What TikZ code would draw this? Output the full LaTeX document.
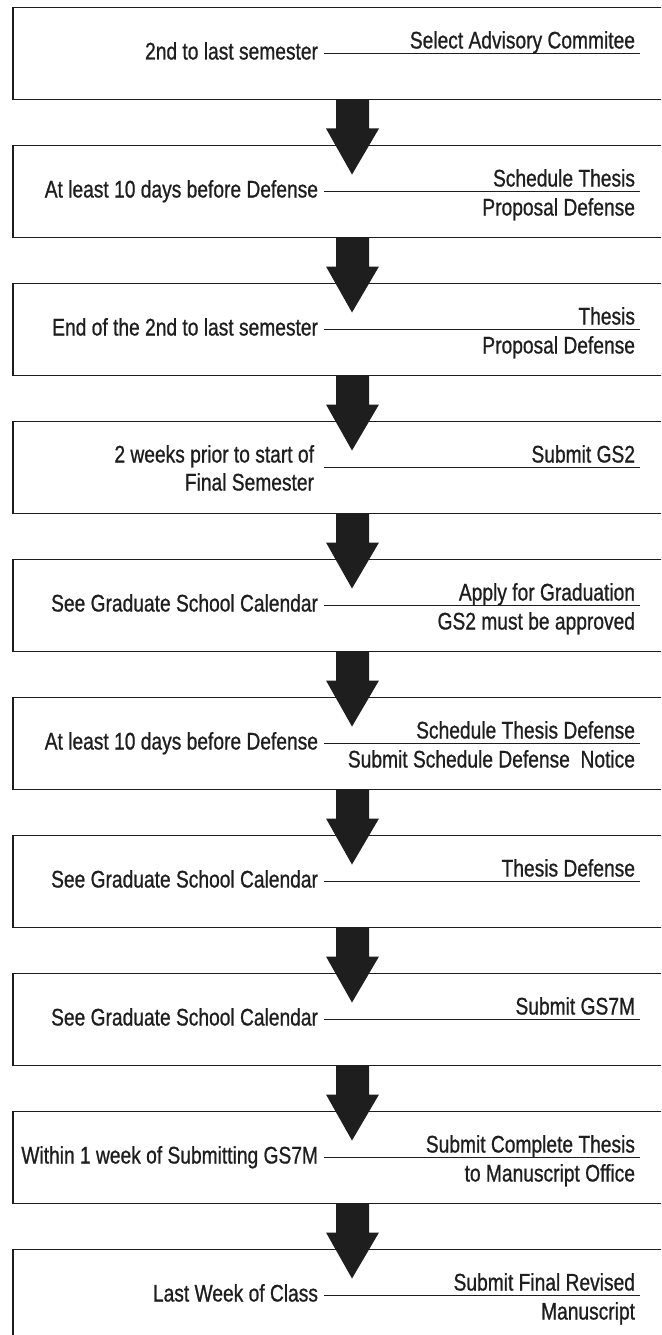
\documentclass[tikz,border=0pt]{standalone}
\usepackage{fontspec}
\setmainfont[FakeStretch=0.8,FakeBold=0.8]{Liberation Sans}
\usetikzlibrary{calc}
\definecolor{ink}{HTML}{1E1E1E}
\newcommand\mystage[3]{%
  \node[stepbox] (#1) at (13,#2) {};
  \draw[rule] ($(#1.west)+(311,0)$) coordinate (#1a) -- ($(#1.west)+(627,0)$) coordinate (#1b);
  \node[txt] (#1U) at ($(#1.west)+(622,-5)$) {#3};
}
\newcommand\myleft[2]{\node[txt] (#1L) at ($(#1.west)+(305,6)$) {#2};}
\newcommand\mylower[2]{\node[txt] (#1D) at ($(#1.west)+(622,24)$) {#2};}
\newcommand\myarrow[2]{%
  \fill[arr] ($(#1.south west)+(323,0)$) -- ($(#1.south west)+(356,0)$)
    -- ($(#2.north west)+(356,-17)$) -- ($(#2.north west)+(366,-17)$)
    -- ($(#2.north west)+(339,29)$) -- ($(#2.north west)+(313,-17)$)
    -- ($(#2.north west)+(323,-17)$) -- cycle;}
\begin{document}
\begin{tikzpicture}[x=1pt,y=-1pt,
  stepbox/.style={draw=ink,line width=1.8pt,minimum width=680pt,minimum height=92pt,
    anchor=north west,inner sep=0pt,outer sep=0pt,fill=white},
  txt/.style={font=\fontsize{24}{28}\selectfont,text=ink,inner sep=0pt,outer sep=0pt,anchor=base east},
  rule/.style={draw=ink,line width=1.6pt},
  arr/.style={fill=ink}]
\useasboundingbox (0,0) rectangle (661,1335);
\clip (0,0) rectangle (661,1335);

\mystage{s1}{7.5}{Select Advisory Commitee}
\myleft{s1}{2nd to last semester}

\mystage{s2}{145.5}{Schedule Thesis}
\myleft{s2}{At least 10 days before Defense}
\mylower{s2}{Proposal Defense}

\mystage{s3}{283.5}{Thesis}
\myleft{s3}{End of the 2nd to last semester}
\mylower{s3}{Proposal Defense}

\mystage{s4}{421.5}{Submit GS2}
\node[txt] (s4L) at ($(s4.west)+(301,-5)$) {2 weeks prior to start of};
\node[txt] (s4L2) at ($(s4.west)+(301,23)$) {Final Semester};

\mystage{s5}{559.5}{Apply for Graduation}
\myleft{s5}{See Graduate School Calendar}
\mylower{s5}{GS2 must be approved}

\mystage{s6}{697.5}{Schedule Thesis Defense}
\myleft{s6}{At least 10 days before Defense}
\mylower{s6}{Submit Schedule Defense~~Notice}

\mystage{s7}{835.5}{Thesis Defense}
\myleft{s7}{See Graduate School Calendar}

\mystage{s8}{973.5}{Submit GS7M}
\myleft{s8}{See Graduate School Calendar}

\mystage{s9}{1111.5}{Submit Complete Thesis}
\myleft{s9}{Within 1 week of Submitting GS7M}
\mylower{s9}{to Manuscript Office}

\mystage{s10}{1249.5}{Submit Final Revised}
\myleft{s10}{Last Week of Class}
\mylower{s10}{Manuscript}

\myarrow{s1}{s2}
\myarrow{s2}{s3}
\myarrow{s3}{s4}
\myarrow{s4}{s5}
\myarrow{s5}{s6}
\myarrow{s6}{s7}
\myarrow{s7}{s8}
\myarrow{s8}{s9}
\myarrow{s9}{s10}
\end{tikzpicture}
\end{document}
